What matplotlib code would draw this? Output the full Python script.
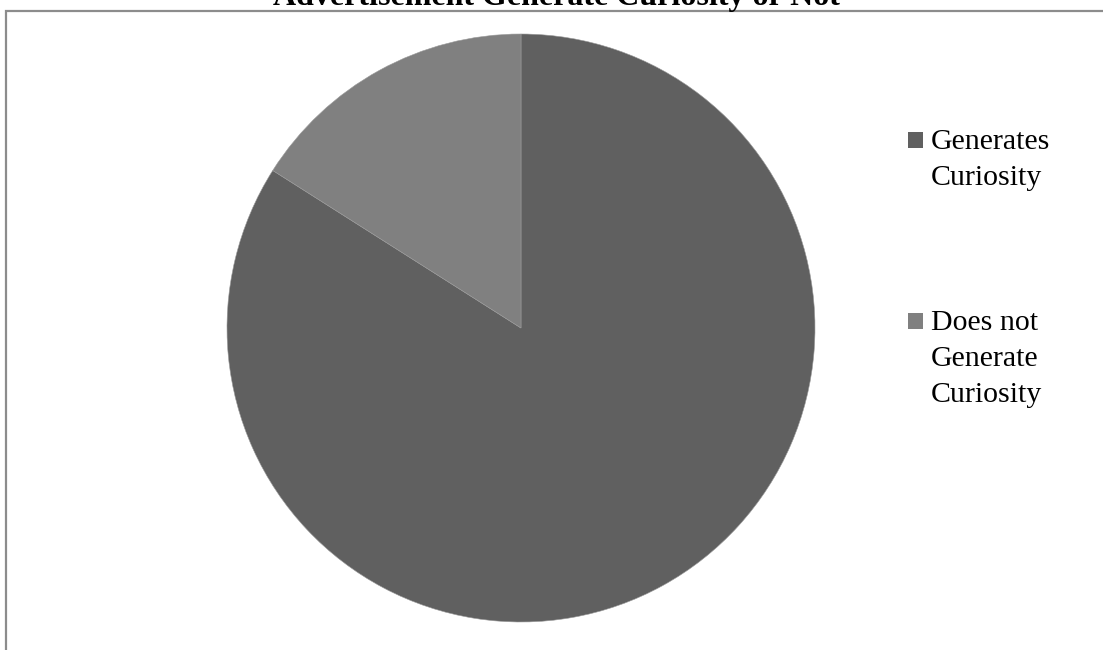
import matplotlib.pyplot as plt
from matplotlib.patches import Rectangle

# ---- data ----
labels = ["Generates\nCuriosity", "Does not\nGenerate\nCuriosity"]
values = [84, 16]
colors = ["#606060", "#808080"]
title = "Advertisement Generate Curiosity or Not"

W, H = 1103, 650
fig = plt.figure(figsize=(W / 100, H / 100), dpi=100)
plt.rcParams['font.family'] = ['Liberation Serif', 'DejaVu Serif']

# chart area frame (runs off the right/bottom edge)
fig.patches.append(Rectangle((6 / W, -0.1), 1.2, (H - 10.5) / H + 0.1,
                             transform=fig.transFigure, fill=False,
                             edgecolor="#8c8c8c", linewidth=1.6))

fig.text(556 / W, 1 - 5 / H, title, ha="center", va="baseline",
         fontsize=23, fontweight="bold")

# ---- pie ----
cx, cy, r = 521, 328, 294
ax = fig.add_axes([(cx - r) / W, (H - cy - r) / H, 2 * r / W, 2 * r / H])
ax.pie(values, colors=colors, startangle=90, counterclock=False,
       wedgeprops=dict(edgecolor="#9a9a9a", linewidth=0.4))
ax.set_xlim(-1, 1)
ax.set_ylim(-1, 1)
ax.axis("off")

# ---- legend ----
legend_top = [132, 313]
line_h = 36
for lab, col, top in zip(labels, colors, legend_top):
    fig.patches.append(Rectangle((908 / W, 1 - (top + 16) / H), 15 / W, 16 / H,
                                 transform=fig.transFigure, facecolor=col,
                                 edgecolor="none"))
    for k, line in enumerate(lab.split("\n")):
        fig.text(931 / W, 1 - (top + 17 + k * line_h) / H, line,
                 ha="left", va="baseline", fontsize=21.5)

fig.savefig("out.png", dpi=100)
